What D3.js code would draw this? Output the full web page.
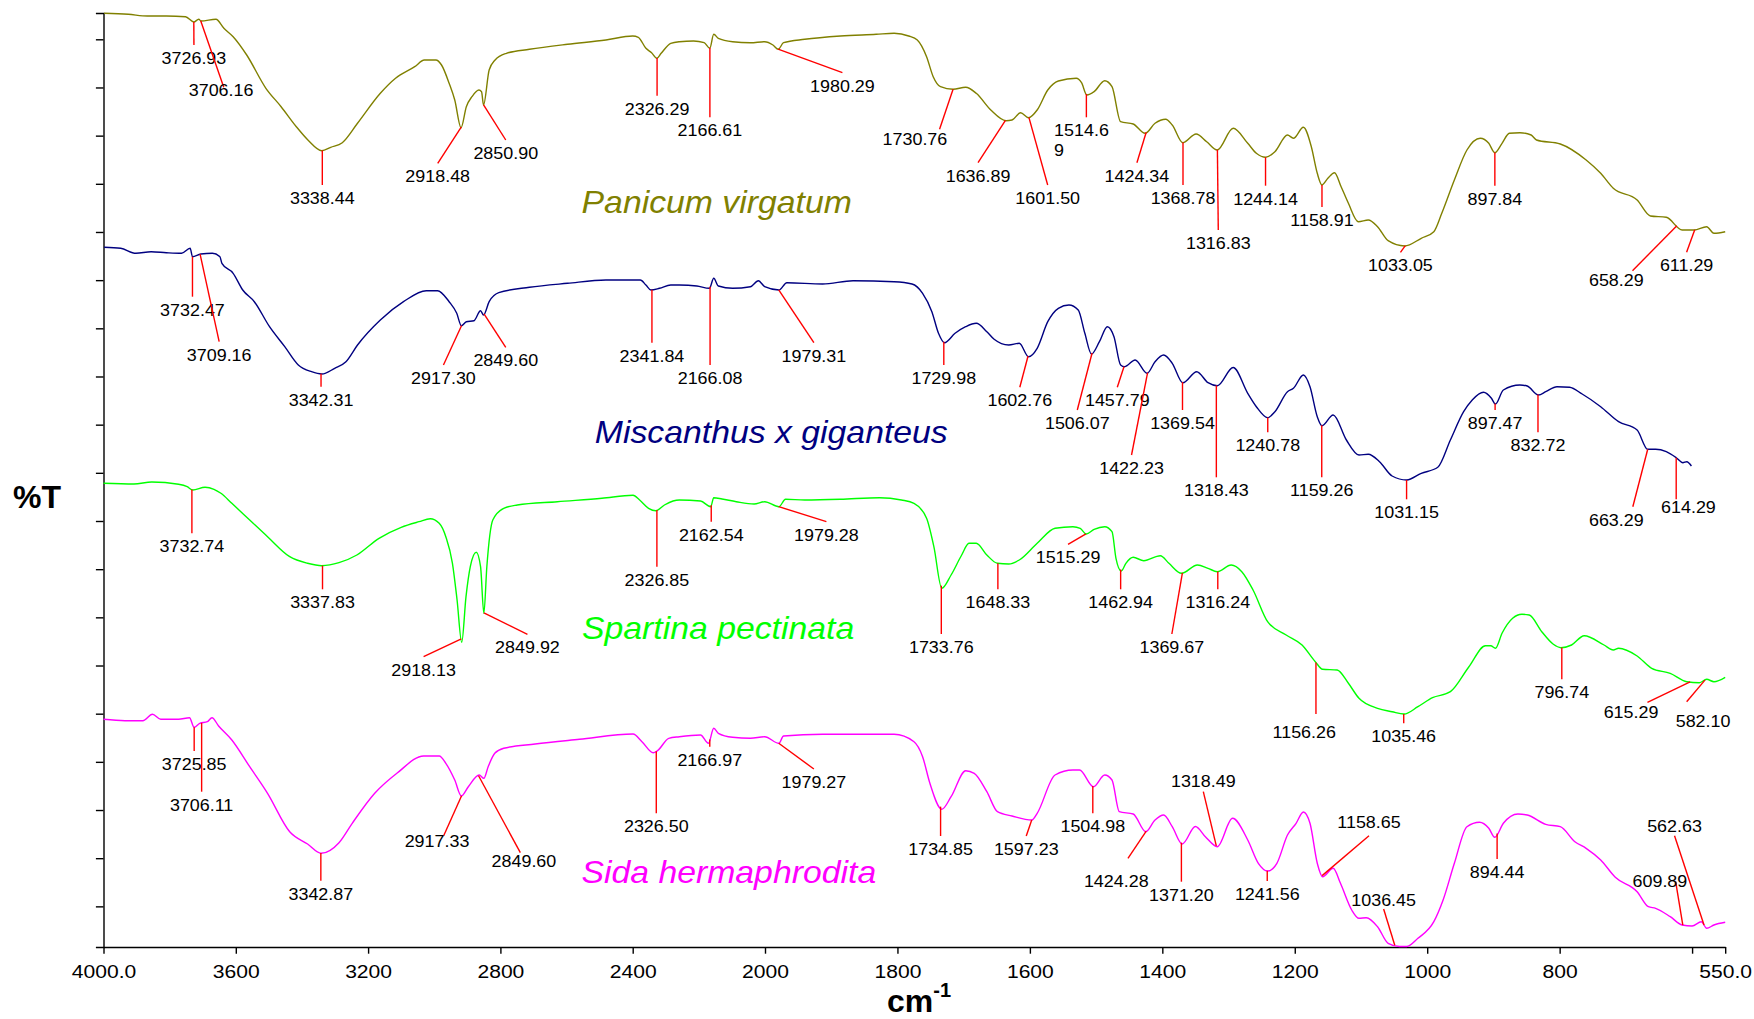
<!DOCTYPE html>
<html>
<head>
<meta charset="utf-8">
<script src="https://cdn.jsdelivr.net/npm/d3@7"></script>
<style>
  body { margin: 0; background: #fff; }
  svg { display: block; font-family: "Liberation Sans", Arial, sans-serif; }
</style>
</head>
<body>
<script>
// FTIR spectra, [wavenumber cm-1, %T] (stacked, arbitrary %T units)
const panicum = [[3998,93.37],[3925,93.27],[3867,93.1],[3810,93.1],[3752,93.03],[3727,92.5],[3712,92.77],[3705,92.6],[3660,92.77],[3636,91.87],[3608,91.03],[3567,89.2],[3509,85.87],[3463,84.03],[3417,82.03],[3382,80.7],[3340,79.63],[3313,79.97],[3278,80.43],[3232,82.37],[3163,85.37],[3117,86.87],[3059,88.03],[3030,88.7],[2995,88.7],[2978,88.2],[2955,86.37],[2938,84.7],[2919,81.93],[2903,84.03],[2886,85.03],[2865,85.7],[2857,85.53],[2851,84.2],[2834,87.7],[2816,88.7],[2782,89.37],[2712,89.77],[2597,90.27],[2481,90.7],[2400,91.1],[2383,90.97],[2360,89.87],[2343,89.43],[2327,88.87],[2314,89.37],[2285,90.37],[2259,90.53],[2216,90.6],[2184,90.43],[2167,89.87],[2155,91.27],[2141,90.87],[2098,90.53],[2044,90.43],[2001,90.53],[1988,90.2],[1980,89.77],[1972,90.43],[1940,90.77],[1886,91.1],[1832,91.27],[1805,91.37],[1783,91.1],[1770,90.7],[1756,89.03],[1746,87.03],[1735,86.03],[1716,85.77],[1697,85.97],[1681,85.37],[1659,83.7],[1636,82.63],[1627,82.7],[1614,83.43],[1602,82.93],[1589,83.7],[1573,85.7],[1557,86.6],[1530,86.87],[1522,86.43],[1514,85.2],[1503,85.53],[1487,86.63],[1476,86.03],[1463,82.53],[1444,82.3],[1426,81.37],[1411,82.37],[1395,82.77],[1385,82.2],[1369,80.43],[1349,81.3],[1333,80.53],[1317,79.7],[1293,81.87],[1271,80.37],[1258,79.37],[1244,78.97],[1230,79.53],[1211,81.2],[1202,80.87],[1187,81.97],[1175,80.03],[1166,77.37],[1159,76.2],[1150,76.87],[1140,77.43],[1130,76.03],[1119,74.37],[1104,72.53],[1089,72.7],[1075,72.03],[1059,70.63],[1034,70.1],[1009,70.87],[990,71.53],[978,73.37],[959,76.7],[940,79.7],[920,80.87],[907,80.37],[898,79.43],[887,80.37],[876,81.37],[860,81.43],[843,81.2],[835,80.7],[799,80.3],[760,78.7],[738,77.37],[719,75.87],[683,74.7],[663,73.1],[639,72.97],[615,71.7],[597,71.7],[578,72.03],[567,71.37],[550,71.53]];

const miscanthus = [[3998,69.97],[3948,69.87],[3902,69.37],[3856,69.53],[3810,69.43],[3764,69.37],[3738,69.87],[3731,69.03],[3706,69.3],[3671,69.37],[3648,69.03],[3642,68.37],[3608,67.37],[3579,65.7],[3544,64.53],[3498,62.03],[3452,60.03],[3411,58.2],[3371,57.53],[3340,57.3],[3301,57.87],[3267,58.53],[3232,60.2],[3163,62.7],[3093,64.53],[3024,65.63],[2990,65.63],[2955,64.53],[2932,63.37],[2918,62.13],[2903,62.53],[2880,62.63],[2860,63.63],[2851,63.2],[2834,64.53],[2805,65.43],[2712,65.97],[2597,66.37],[2481,66.7],[2377,66.7],[2360,66.2],[2345,65.7],[2319,65.87],[2285,66.2],[2259,66.2],[2206,66.1],[2168,65.87],[2155,66.87],[2141,66.1],[2098,65.87],[2044,66.03],[2020,66.63],[2001,66.03],[1979,65.7],[1967,66.43],[1913,66.3],[1867,66.63],[1805,66.53],[1778,66.3],[1762,65.37],[1748,63.53],[1738,61.37],[1729,60.43],[1713,61.37],[1697,62.03],[1681,62.37],[1665,61.53],[1654,60.77],[1632,60.2],[1616,60.37],[1602,59.03],[1589,59.87],[1573,62.53],[1557,63.87],[1541,64.2],[1527,63.7],[1517,61.37],[1507,59.3],[1495,60.53],[1483,62.03],[1473,61.03],[1463,58.2],[1457,58.03],[1441,58.7],[1423,57.37],[1411,58.53],[1398,59.2],[1385,58.37],[1369,56.43],[1348,57.53],[1331,56.43],[1317,56.13],[1293,57.95],[1271,55.37],[1258,54.03],[1241,52.93],[1230,53.53],[1211,55.53],[1202,55.87],[1187,57.2],[1177,56.03],[1166,53.03],[1159,52.13],[1142,53.2],[1122,50.7],[1103,49.2],[1089,49.27],[1072,48.53],[1053,47.1],[1031,46.7],[1009,47.37],[984,47.97],[965,50.7],[945,53.53],[932,54.7],[915,55.47],[903,54.87],[897,54.3],[885,55.7],[860,56.2],[849,56.1],[832,55.2],[821,55.53],[804,56.03],[785,55.97],[766,55.3],[738,54.03],[711,52.53],[683,51.7],[667,49.77],[655,49.77],[639,49.53],[624,48.93],[614,48.43],[608,48.53],[601,48.1]];

const spartina = [[4000,46.37],[3908,46.3],[3854,46.5],[3773,46.27],[3747,46.03],[3730,45.7],[3693,45.97],[3666,45.77],[3645,45.37],[3612,44.37],[3558,42.7],[3504,41.03],[3437,39.03],[3383,38.37],[3340,38.13],[3288,38.43],[3234,39.2],[3167,40.87],[3100,41.97],[3046,42.53],[3012,42.83],[2985,42.37],[2965,41.03],[2945,38.37],[2931,34.7],[2917,30.47],[2904,35.03],[2891,38.03],[2873,39.47],[2860,38.03],[2850,33.37],[2841,38.03],[2823,42.7],[2790,43.87],[2749,44.2],[2628,44.53],[2493,44.87],[2399,45.17],[2379,44.7],[2352,43.87],[2330,43.63],[2304,44.2],[2278,44.6],[2259,44.7],[2195,44.6],[2164,44.03],[2155,44.93],[2130,44.8],[2087,44.53],[2033,44.3],[2001,44.53],[1979,44.03],[1969,44.77],[1940,44.7],[1886,44.77],[1827,44.93],[1794,44.7],[1775,44.37],[1756,42.87],[1745,40.03],[1733,35.87],[1719,37.2],[1703,39.2],[1692,40.37],[1681,40.37],[1665,39.2],[1649,38.37],[1632,38.3],[1616,38.7],[1589,40.37],[1562,41.87],[1535,42.03],[1524,41.87],[1515,41.3],[1503,41.77],[1487,42.03],[1476,41.53],[1470,38.87],[1462,37.6],[1455,38.37],[1444,38.97],[1428,38.63],[1403,39.13],[1390,38.37],[1371,37.37],[1347,38.2],[1331,37.87],[1317,37.53],[1296,38.2],[1280,37.53],[1263,35.7],[1241,32.53],[1213,31.2],[1189,30.2],[1169,28.53],[1158,27.77],[1136,27.7],[1119,26.37],[1103,24.87],[1075,23.87],[1053,23.53],[1035,23.3],[1014,24.03],[992,24.93],[965,25.53],[937,28.03],[912,30.13],[904,30.13],[897,29.87],[887,31.37],[871,32.87],[857,33.27],[846,33.2],[827,31.53],[810,30.3],[798,29.93],[782,30.2],[763,31.13],[733,30.2],[719,29.7],[711,29.87],[683,29.1],[661,27.87],[633,27.37],[608,26.53],[589,26.43],[578,26.77],[567,26.53],[550,26.97]];

const sida = [[4000,22.77],[3935,22.63],[3881,22.63],[3852,23.27],[3827,22.77],[3773,22.77],[3740,22.93],[3726,21.97],[3709,22.37],[3686,22.53],[3672,22.93],[3652,22.1],[3612,20.7],[3558,18.03],[3504,15.37],[3437,11.53],[3383,10.3],[3342,9.37],[3288,10.43],[3248,12.37],[3180,15.37],[3113,17.37],[3032,19.1],[2985,19.1],[2965,18.37],[2938,16.7],[2918,15.1],[2897,16.03],[2864,17.2],[2850,16.87],[2837,18.03],[2817,19.37],[2790,19.87],[2695,20.3],[2561,20.77],[2399,21.3],[2372,20.53],[2338,19.43],[2325,19.63],[2291,20.87],[2259,21.03],[2195,21.2],[2171,20.37],[2155,21.87],[2141,21.37],[2098,20.97],[2044,20.87],[2001,21.03],[1979,20.37],[1972,21.1],[1913,21.27],[1859,21.27],[1805,21.27],[1775,20.53],[1762,19.03],[1751,16.37],[1733,13.77],[1719,15.03],[1697,17.63],[1684,17.37],[1665,15.53],[1649,13.53],[1627,13.1],[1597,12.7],[1589,13.37],[1562,17.2],[1535,17.7],[1525,17.7],[1504,16.03],[1487,17.2],[1476,16.7],[1465,13.53],[1444,13.3],[1425,11.53],[1411,12.7],[1398,13.2],[1385,12.03],[1370,10.3],[1350,12.05],[1335,11.03],[1317,10.03],[1294,12.87],[1271,10.7],[1255,8.37],[1241,7.6],[1227,8.37],[1211,11.2],[1198,12.37],[1187,13.5],[1177,12.37],[1166,8.37],[1158,7.03],[1142,7.87],[1131,6.37],[1114,3.7],[1103,2.87],[1092,2.93],[1075,2.03],[1059,0.37],[1042,0.05],[1031,0.05],[1014,0.87],[990,2.53],[976,4.7],[959,8.37],[940,12.03],[921,12.47],[907,11.87],[898,10.97],[885,12.37],[863,13.3],[849,13.2],[821,12.27],[799,12.03],[777,10.53],[760,9.87],[738,8.7],[716,6.97],[683,5.53],[666,4.03],[655,3.87],[633,3.03],[615,2.2],[600,2.1],[586,2.53],[578,1.87],[567,2.2],[550,2.47]];

// peak labels: [text, wavenumber where the leader meets the curve, leader end cm-1, leader end %T, text cm-1, text %T]
const panicumPeaks = [
  ["3726.93", 3726.93, 3726.6, 90.2],
  ["3706.16", 3706.16, 3636.4, 85.97, 3644.5, 85.1],
  ["3338.44", 3338.44, 3338.44, 76.2],
  ["2918.48", 2918.48, 2989.5, 78.37],
  ["2850.90", 2850.90, 2783.8, 80.7],
  ["2326.29", 2326.29, 2326.29, 85.13],
  ["2166.61", 2166.61, 2166.61, 82.97],
  ["1980.29", 1980.29, 1883.1, 87.43],
  ["1730.76", 1716, 1736.4, 81.77, 1773.6, 80.2],
  ["1636.89", 1636.89, 1678.3, 78.43],
  ["1601.50", 1601.50, 1573.1, 76.2],
  ["1514.6|9", 1514.69, 1514.69, 82.97, 1563.4, 81.1],
  ["1424.34", 1424.34, 1438.4, 78.43],
  ["1368.78", 1368.78, 1368.78, 76.2],
  ["1316.83", 1316.83, 1315.5, 71.7],
  ["1244.14", 1244.14, 1244.14, 76.13],
  ["1158.91", 1158.91, 1158.91, 74.0],
  ["1033.05", 1033.05, 1040.4, 69.47],
  ["897.84", 897.84, 897.84, 76.13],
  ["658.29", 623, 690, 67.63, 714.4, 66.1],
  ["611.29", 596, 608.3, 69.47]
];

const miscanthusPeaks = [
  ["3732.47", 3731, 3731, 65.03],
  ["3709.16", 3708, 3650.3, 60.53],
  ["3342.31", 3342.31, 3342.31, 56.03],
  ["2917.30", 2917.30, 2972.2, 58.2],
  ["2849.60", 2849.60, 2783.8, 59.97],
  ["2341.84", 2341.84, 2341.84, 60.43],
  ["2166.08", 2166.08, 2166.08, 58.2],
  ["1979.31", 1979.31, 1926.2, 60.43],
  ["1729.98", 1729.98, 1729.98, 58.2],
  ["1602.76", 1602.76, 1615.2, 55.97],
  ["1506.07", 1506.07, 1528.4, 53.7],
  ["1457.79", 1457.79, 1468, 55.97],
  ["1422.23", 1422.23, 1446.5, 49.2],
  ["1369.54", 1369.54, 1369.54, 53.7],
  ["1318.43", 1318.43, 1318.43, 46.97],
  ["1240.78", 1240.78, 1240.78, 51.47],
  ["1159.26", 1159.26, 1159.26, 46.97],
  ["1031.15", 1031.15, 1031.15, 44.77],
  ["897.47", 897.47, 897.47, 53.7],
  ["832.72", 832.72, 832.72, 51.47],
  ["663.29", 667, 689.5, 44.03, 714.4, 42.1],
  ["614.29", 624, 624, 44.77, 605.5, 43.37]
];

const spartinaPeaks = [
  ["3732.74", 3732.74, 3732.74, 41.37],
  ["3337.83", 3337.83, 3337.83, 35.77],
  ["2918.13", 2918.13, 3032.2, 29.03],
  ["2849.92", 2849.92, 2718.2, 31.27],
  ["2326.85", 2326.85, 2326.85, 38.03],
  ["2162.54", 2162.54, 2162.54, 42.53],
  ["1979.28", 1979.28, 1907.3, 42.53],
  ["1733.76", 1733.76, 1733.76, 31.3],
  ["1648.33", 1648.33, 1648.33, 35.77],
  ["1515.29", 1515.29, 1542.4, 40.27],
  ["1462.94", 1462.94, 1462.94, 35.77],
  ["1369.67", 1369.67, 1385.6, 31.3],
  ["1316.24", 1316.24, 1316.24, 35.77],
  ["1156.26", 1168, 1168, 23.3, 1185.7, 20.93],
  ["1035.46", 1035.46, 1035.46, 22.37],
  ["796.74", 796.74, 796.74, 26.77],
  ["615.29", 603, 667.4, 24.47, 692.2, 22.93],
  ["582.10", 580.6, 608.2, 24.53, 583.4, 22.03]
];

const sidaPeaks = [
  ["3725.85", 3725.85, 3725.85, 19.6],
  ["3706.11", 3703.3, 3703.3, 15.53],
  ["3342.87", 3342.87, 3342.87, 6.63],
  ["2917.33", 2917.33, 2971.5, 11.13, 2991.7, 9.97],
  ["2849.60", 2866, 2739.7, 9.43, 2728.9, 7.97],
  ["2326.50", 2328.7, 2328.7, 13.37],
  ["2166.97", 2166.97, 2166.97, 20.03],
  ["1979.27", 1979.27, 1926.2, 17.8],
  ["1734.85", 1734.85, 1734.85, 11.1],
  ["1597.23", 1597.23, 1605.5, 11.1],
  ["1504.98", 1504.98, 1504.98, 13.37],
  ["1424.28", 1424.28, 1451.9, 8.87, 1469.6, 5.97],
  ["1371.20", 1371.20, 1371.20, 6.53],
  ["1318.49", 1318.49, 1338.1, 15.53, 1338.1, 16.03],
  ["1241.56", 1241.56, 1241.56, 6.6],
  ["1158.65", 1158.65, 1087.9, 11.13, 1087.9, 11.93],
  ["1036.45", 1049, 1065.8, 3.8, 1065.8, 4.13],
  ["894.44", 894.44, 894.44, 8.8],
  ["609.89", 614, 624.8, 6.53, 648.6, 5.97],
  ["562.63", 582, 626.5, 11.13, 626.5, 11.53]
];

const seriesNames = ["Panicum virgatum", "Miscanthus x giganteus", "Spartina pectinata", "Sida hermaphrodita"];
const seriesColors = ["#808000", "#000080", "#00ff00", "#ff00ff"];
// name label anchor [cm-1, %T]
const nameAnchors = [[2146, 73.45], [1990.5, 50.45], [2141.8, 30.77], [2109.5, 6.37]];

const xTicks = [4000, 3600, 3200, 2800, 2400, 2000, 1800, 1600, 1400, 1200, 1000, 800, 600, 550];
const xTickLabels = {4000: "4000.0", 550: "550.0", 600: ""};
const yTicks = d3.range(19).map(k => 90.77 - 4.817 * k);

const width = 1754, height = 1019;
const svg = d3.select('body').append('svg')
  .attr('width', width)
  .attr('height', height);

// x axis is broken in scale at 2000 cm-1
const x = d3.scaleLinear().domain([4000, 2000, 550]).range([103.5, 765, 1725.2]);
const y = d3.scaleLinear().domain([0, 93.4]).range([947, 13]);

// axes
const gy = svg.append('g')
  .attr('transform', `translate(${x(4000)},0)`)
  .call(d3.axisLeft(y).tickValues(yTicks).tickSize(7.6).tickFormat(''));
const gx = svg.append('g')
  .attr('transform', `translate(0,${y(0)})`)
  .call(d3.axisBottom(x).tickValues(xTicks).tickSize(6.7).tickSizeOuter(0)
    .tickFormat(d => d in xTickLabels ? xTickLabels[d] : d));
[gx, gy].forEach(g => {
  g.selectAll('path, line').attr('stroke', '#000').attr('stroke-width', 1.4);
});
gx.selectAll('text')
  .attr('y', 31).attr('dy', null)
  .attr('transform', 'scale(1.14,1)')
  .attr('font-family', '"Liberation Sans", Arial, sans-serif')
  .attr('font-size', 18.5)
  .attr('fill', '#000');

svg.append('text')
  .attr('x', 13).attr('y', 508)
  .attr('font-size', 32).attr('font-weight', 'bold')
  .text('%T');
const xt = svg.append('text')
  .attr('x', 887).attr('y', 1012)
  .attr('font-size', 32).attr('font-weight', 'bold');
xt.append('tspan').text('cm');
xt.append('tspan').attr('font-size', 20).attr('dy', -15).text('-1');

// spectra
const line = d3.line()
  .x(d => x(d[0]))
  .y(d => y(d[1]))
  .curve(d3.curveMonotoneX);

function valueAt(series, w) {
  for (let i = 0; i < series.length - 1; i++) {
    const [w0, v0] = series[i], [w1, v1] = series[i + 1];
    if (w <= w0 && w >= w1) return v0 + (v1 - v0) * (w0 - w) / (w0 - w1);
  }
  return series[series.length - 1][1];
}

const spectra = [panicum, miscanthus, spartina, sida];
const peaks = [panicumPeaks, miscanthusPeaks, spartinaPeaks, sidaPeaks];

spectra.forEach((s, i) => {
  svg.append('path')
    .datum(s)
    .attr('fill', 'none')
    .attr('stroke', seriesColors[i])
    .attr('stroke-width', 1.4)
    .attr('stroke-linejoin', 'round')
    .attr('d', line);

  svg.append('text')
    .attr('transform', `translate(${x(nameAnchors[i][0])},${y(nameAnchors[i][1])}) scale(1.09,1)`)
    .attr('text-anchor', 'middle')
    .attr('font-size', 31)
    .attr('font-style', 'italic')
    .attr('fill', seriesColors[i])
    .text(seriesNames[i]);
});

// peak markers
peaks.forEach((list, i) => {
  const g = svg.append('g');
  list.forEach(([txt, at, lw, lv, tw, tv]) => {
    const x1 = x(lw), y1 = y(lv);
    g.append('line')
      .attr('x1', x(at)).attr('y1', y(valueAt(spectra[i], at)))
      .attr('x2', x1).attr('y2', y1)
      .attr('stroke', '#ff0000')
      .attr('stroke-width', 1.4);

    const tx = tw == null ? x1 : x(tw);
    const ty = tv == null ? y1 + 19 : y(tv);
    const parts = txt.split('|');
    const t = g.append('text')
      .attr('transform', `translate(${tx},${ty}) scale(1.12,1)`)
      .attr('text-anchor', parts.length > 1 ? 'start' : 'middle')
      .attr('font-size', 16)
      .attr('fill', '#000');
    parts.forEach((p, k) => t.append('tspan').attr('x', 0).attr('dy', k ? 20 : 0).text(p));
  });
});
</script>
</body>
</html>
